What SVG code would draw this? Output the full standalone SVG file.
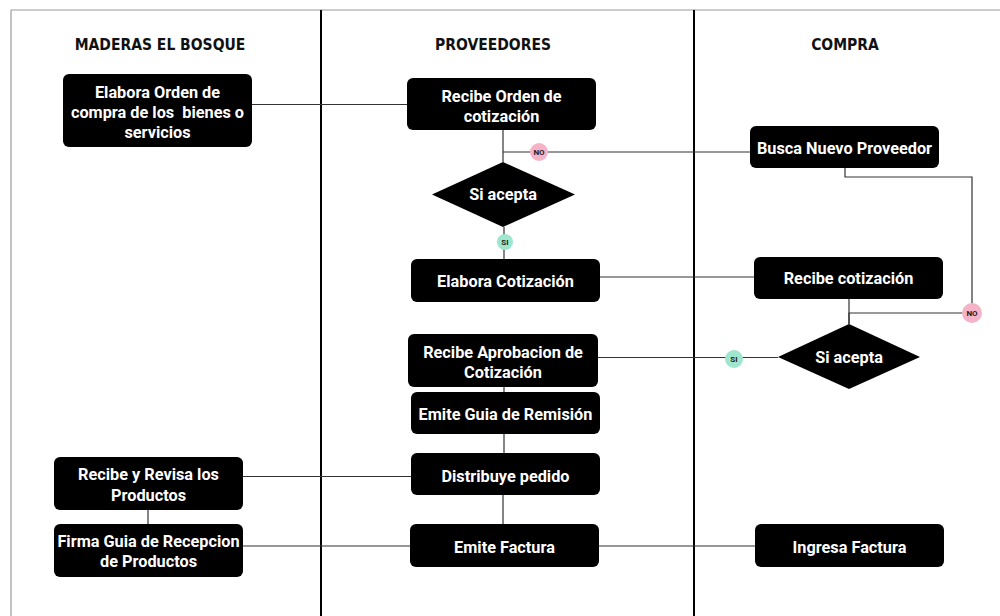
<svg xmlns="http://www.w3.org/2000/svg" width="1000" height="616" viewBox="0 0 1000 616">
<style>
.lane{stroke:#000;stroke-width:2;fill:none}
.frame{stroke:#999;stroke-width:1.2;fill:none}
.hdr{font-family:"DejaVu Sans Condensed","DejaVu Sans",sans-serif;font-weight:bold;font-size:15.5px;fill:#111;text-anchor:middle}
.box{fill:#000}
.t{font-family:Roboto,"Liberation Sans",sans-serif;font-weight:bold;font-size:16.3px;fill:#fff;text-anchor:middle}
.c{stroke:#333;stroke-width:1.2;fill:none}
.no{fill:#f5b3c8}
.si{fill:#9ee6cd}
.lb{font-family:Roboto,"Liberation Sans",sans-serif;font-weight:bold;font-size:8px;fill:#222;text-anchor:middle}
</style>
<rect width="1000" height="616" fill="#fff"/>
<g id="frame">
<line class="frame" x1="11" y1="10" x2="1000" y2="10"/>
<line class="frame" x1="11" y1="10" x2="11" y2="616"/>
<line class="lane" x1="321" y1="10" x2="321" y2="616"/>
<line class="lane" x1="694" y1="10" x2="694" y2="616"/>
<text class="hdr" x="160" y="50">MADERAS EL BOSQUE</text>
<text class="hdr" x="493" y="50">PROVEEDORES</text>
<text class="hdr" x="845" y="50">COMPRA</text>
</g>
<g id="connectors">
<path class="c" d="M252 104.5H407"/>
<path class="c" d="M503 130V162"/>
<path class="c" d="M503 152H750"/>
<path class="c" d="M845 168V177H972V313H849V324"/>
<path class="c" d="M849 299V324"/>
<path class="c" d="M504 227V259"/>
<path class="c" d="M600 277H754"/>
<path class="c" d="M778 357.5H598"/>
<path class="c" d="M504 387V392"/>
<path class="c" d="M504 434V453"/>
<path class="c" d="M503 495V524"/>
<path class="c" d="M411 476.5H243"/>
<path class="c" d="M148 510V524"/>
<path class="c" d="M410 546H243"/>
<path class="c" d="M599 546H755"/>
</g>
<g id="n1"><rect class="box" x="63" y="74" width="189" height="73" rx="6"/><text class="t" x="157.5" y="98">Elabora Orden de</text><text class="t" x="157.5" y="118" xml:space="preserve">compra de los  bienes o</text><text class="t" x="157.5" y="138">servicios</text></g>
<g id="n2"><rect class="box" x="407" y="78" width="189" height="52" rx="6"/><text class="t" x="501.5" y="102">Recibe Orden de</text><text class="t" x="501.5" y="122">cotización</text></g>
<g id="d1"><polygon class="box" points="503,162 575,194.5 503,227 432,194.5"/><text class="t" x="503" y="200">Si acepta</text></g>
<g id="no1"><circle class="no" cx="539" cy="152" r="9"/><text class="lb" x="539" y="155">NO</text></g>
<g id="si1"><circle class="si" cx="505" cy="242" r="8"/><text class="lb" x="505" y="245">SI</text></g>
<g id="n3"><rect class="box" x="411" y="259" width="189" height="43" rx="6"/><text class="t" x="505.5" y="287">Elabora Cotización</text></g>
<g id="n4"><rect class="box" x="408" y="334" width="190" height="53" rx="6"/><text class="t" x="503" y="358">Recibe Aprobacion de</text><text class="t" x="503" y="378">Cotización</text></g>
<g id="n5"><rect class="box" x="411" y="392" width="189" height="42" rx="6"/><text class="t" x="505.5" y="420">Emite Guia de Remisión</text></g>
<g id="n6"><rect class="box" x="411" y="453" width="189" height="42" rx="6"/><text class="t" x="505.5" y="482">Distribuye pedido</text></g>
<g id="n7"><rect class="box" x="410" y="524" width="189" height="43" rx="6"/><text class="t" x="504.5" y="553">Emite Factura</text></g>
<g id="n8"><rect class="box" x="54" y="457" width="189" height="53" rx="6"/><text class="t" x="148.5" y="480">Recibe y Revisa los</text><text class="t" x="148.5" y="501">Productos</text></g>
<g id="n9"><rect class="box" x="54" y="524" width="189" height="53" rx="6"/><text class="t" x="148.5" y="547">Firma Guia de Recepcion</text><text class="t" x="148.5" y="567">de Productos</text></g>
<g id="n10"><rect class="box" x="750" y="126" width="189" height="42" rx="6"/><text class="t" x="844.5" y="154">Busca Nuevo Proveedor</text></g>
<g id="n11"><rect class="box" x="754" y="257" width="189" height="42" rx="6"/><text class="t" x="848.5" y="284">Recibe cotización</text></g>
<g id="d2"><polygon class="box" points="849,324 920,357 849,389 778,357"/><text class="t" x="849" y="363">Si acepta</text></g>
<g id="si2"><circle class="si" cx="734" cy="359" r="9"/><text class="lb" x="734" y="362">SI</text></g>
<g id="no2"><circle class="no" cx="972" cy="313" r="10"/><text class="lb" x="972" y="316">NO</text></g>
<g id="n12"><rect class="box" x="755" y="524" width="189" height="43" rx="6"/><text class="t" x="849.5" y="553">Ingresa Factura</text></g>
</svg>
